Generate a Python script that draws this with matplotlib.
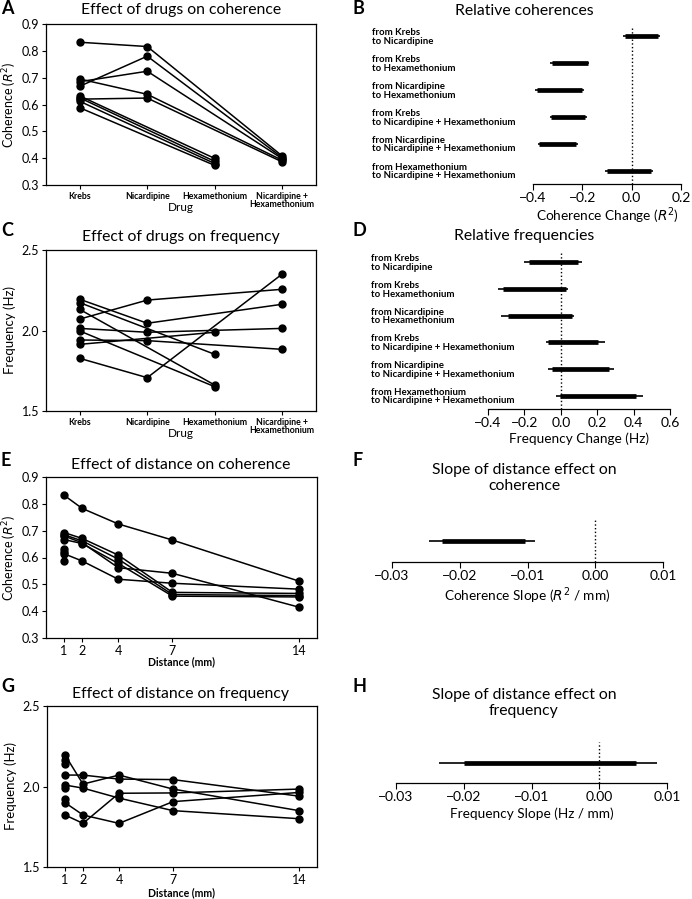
import numpy as np
import matplotlib.pyplot as plt

plt.rcParams['font.family'] = ['Lato', 'DejaVu Sans']
plt.rcParams['mathtext.fontset'] = 'dejavusans'
plt.rcParams['axes.linewidth'] = 0.9

nan = np.nan

# drug conditions (A, C)
drugs = ['Krebs', 'Nicardipine', 'Hexamethonium', 'Nicardipine +\nHexamethonium']
coh_drug = [
    [0.832, 0.816, nan, 0.408],
    [0.668, 0.780, nan, 0.402],
    [0.685, 0.724, nan, 0.398],
    [0.695, 0.638, nan, 0.392],
    [0.620, 0.624, nan, 0.386],
    [0.632, nan, 0.399, nan],
    [0.625, nan, 0.388, nan],
    [0.612, nan, 0.380, nan],
    [0.588, nan, 0.373, nan],
]
freq_drug = [
    [2.071, 2.189, nan, 2.256],
    [2.194, 2.045, nan, 2.163],
    [2.013, 1.989, nan, 2.013],
    [1.941, 1.937, nan, 1.883],
    [1.827, 1.707, nan, 2.351],
    [2.173, nan, 1.852, nan],
    [2.131, nan, 1.661, nan],
    [1.997, nan, 1.651, nan],
    [1.914, nan, 1.989, nan],
]

# relative changes (B, D): thin = outer interval, thick = inner interval
comparisons = ['from Krebs\nto Nicardipine',
               'from Krebs\nto Hexamethonium',
               'from Nicardipine\nto Hexamethonium',
               'from Krebs\nto Nicardipine + Hexamethonium',
               'from Nicardipine\nto Nicardipine + Hexamethonium',
               'from Hexamethonium\nto Nicardipine + Hexamethonium']
coh_thin_lo = [-0.035, -0.333, -0.390, -0.333, -0.381, -0.107]
coh_thick_lo = [-0.028, -0.325, -0.383, -0.327, -0.374, -0.098]
coh_thick_hi = [0.108, -0.178, -0.202, -0.188, -0.226, 0.078]
coh_thin_hi = [0.115, -0.171, -0.195, -0.181, -0.219, 0.086]

freq_thin_lo = [-0.202, -0.345, -0.327, -0.083, -0.070, -0.024]
freq_thick_lo = [-0.176, -0.317, -0.288, -0.068, -0.050, -0.006]
freq_thick_hi = [0.092, 0.028, 0.059, 0.206, 0.264, 0.411]
freq_thin_hi = [0.114, 0.040, 0.073, 0.242, 0.292, 0.453]

# distance series (E, G)
distances = [1, 2, 4, 7, 14]
coh_dist = [
    [0.832, 0.783, 0.725, 0.665, 0.512],
    [0.614, 0.587, 0.519, 0.504, 0.482],
    [0.693, 0.671, 0.609, 0.470, 0.466],
    [0.685, 0.662, 0.594, 0.462, 0.458],
    [0.667, 0.652, 0.578, 0.456, 0.453],
    [0.680, 0.655, 0.562, 0.541, 0.415],
]
coh_dist_single = [0.632, 0.622, 0.588]
freq_dist = [
    [2.196, 2.015, 2.071, 1.984, 1.850],
    [2.071, 2.071, 2.046, 2.043, 1.940],
    [2.009, 1.990, 1.928, 1.850, 1.800],
    [1.900, 1.823, 1.771, 1.906, 1.963],
    [1.823, 1.771, 1.958, 1.960, 1.984],
]
freq_dist_single = [2.165, 2.140, 1.989, 1.920]

# slopes (F, H): thin lo, thick lo, thick hi, thin hi
coh_slope = [-0.0245, -0.0226, -0.0104, -0.0089]
freq_slope = [-0.0236, -0.0199, 0.0054, 0.0085]

W, H = 692, 899
fig = plt.figure(figsize=(W / 100, H / 100), dpi=100)


def box(l, t, r, b):
    return fig.add_axes([l / W, 1 - b / H, (r - l) / W, (b - t) / H])


def paired(ax, xs, series):
    for s in series:
        s = np.asarray(s, float)
        m = ~np.isnan(s)
        ax.plot(np.asarray(xs)[m], s[m], '-o', color='black', lw=1.1, ms=5)


def intervals(ax, labels, lo1, lo2, hi2, hi1):
    y = np.arange(len(labels))
    ax.hlines(y, lo1, hi1, color='black', lw=1.2)
    ax.hlines(y, lo2, hi2, color='black', lw=3.4)
    ax.axvline(0, color='black', ls=':', lw=1)
    for sp in ['top', 'right', 'left']:
        ax.spines[sp].set_visible(False)


def left_style(ax):
    ax.tick_params(labelsize=9, length=3, pad=2)


# A
axA = box(46, 24, 316, 185)
paired(axA, range(4), coh_drug)
axA.set_xlim(-0.5, 3.5)
axA.set_ylim(0.3, 0.9)
axA.set_yticks(np.arange(0.3, 0.91, 0.1))
axA.set_xticks(range(4))
left_style(axA)
axA.set_xticklabels(drugs, fontsize=6.3, fontweight='bold', linespacing=0.85)
axA.set_ylabel('Coherence ($R^2$)', fontsize=9, labelpad=2)
axA.set_xlabel('Drug', fontsize=8.5)
axA.xaxis.set_label_coords(0.5, -0.105)
axA.xaxis.label.set_va('top')

# C
axC = box(46, 250, 316, 411)
paired(axC, range(4), freq_drug)
axC.set_xlim(-0.5, 3.5)
axC.set_ylim(1.5, 2.5)
axC.set_yticks([1.5, 2.0, 2.5])
axC.set_xticks(range(4))
left_style(axC)
axC.set_xticklabels(drugs, fontsize=6.3, fontweight='bold', linespacing=0.85)
axC.set_ylabel('Frequency (Hz)', fontsize=9.5, labelpad=4)
axC.set_xlabel('Drug', fontsize=8.5)
axC.xaxis.set_label_coords(0.5, -0.105)
axC.xaxis.label.set_va('top')

# E
axE = box(46, 477, 317, 638)
paired(axE, distances, coh_dist)
axE.plot([1] * len(coh_dist_single), coh_dist_single, 'o', color='black', ms=5)
axE.set_xlim(0, 15)
axE.set_ylim(0.3, 0.9)
axE.set_yticks(np.arange(0.3, 0.91, 0.1))
axE.set_xticks(distances)
left_style(axE)
axE.set_ylabel('Coherence ($R^2$)', fontsize=9, labelpad=2)
axE.set_xlabel('Distance (mm)', fontsize=7.6, fontweight='bold')
axE.xaxis.set_label_coords(0.5, -0.115)
axE.xaxis.label.set_va('top')

# G
axG = box(47, 706, 317, 867)
paired(axG, distances, freq_dist)
axG.plot([1] * len(freq_dist_single), freq_dist_single, 'o', color='black', ms=5)
axG.set_xlim(0, 15)
axG.set_ylim(1.5, 2.5)
axG.set_yticks([1.5, 2.0, 2.5])
axG.set_xticks(distances)
left_style(axG)
axG.set_ylabel('Frequency (Hz)', fontsize=9.5, labelpad=4)
axG.set_xlabel('Distance (mm)', fontsize=7.6, fontweight='bold')
axG.xaxis.set_label_coords(0.5, -0.125)
axG.xaxis.label.set_va('top')

# B
axB = box(533, 27, 681, 184)
intervals(axB, comparisons, coh_thin_lo, coh_thick_lo, coh_thick_hi, coh_thin_hi)
axB.set_xlim(-0.4, 0.2)
axB.set_xticks([-0.4, -0.2, 0.0, 0.2])
axB.set_ylim(5.5, -0.35)
axB.set_yticks(range(len(comparisons)))
axB.set_yticklabels(comparisons, fontsize=6.9, fontweight='bold',
                    ha='left', linespacing=0.95)
axB.tick_params(axis='y', length=0, pad=116)
axB.tick_params(axis='x', labelsize=10, length=4, pad=2)
axB.set_xlabel('Coherence Change ($R^2$)', fontsize=9.8, labelpad=0.5)

# D
axD = box(488, 253, 670, 409)
intervals(axD, comparisons, freq_thin_lo, freq_thick_lo, freq_thick_hi, freq_thin_hi)
axD.set_xlim(-0.4, 0.6)
axD.set_xticks(np.round(np.arange(-0.4, 0.61, 0.2), 1))
axD.set_ylim(5.5, -0.35)
axD.set_yticks(range(len(comparisons)))
axD.set_yticklabels(comparisons, fontsize=6.9, fontweight='bold',
                    ha='left', linespacing=0.95)
axD.tick_params(axis='y', length=0, pad=84)
axD.tick_params(axis='x', labelsize=10, length=4, pad=2)
axD.set_xlabel('Frequency Change (Hz)', fontsize=9.8, labelpad=2)

# F
axF = box(392, 520, 663, 562)
intervals(axF, [''], [coh_slope[0]], [coh_slope[1]], [coh_slope[2]], [coh_slope[3]])
axF.set_xlim(-0.03, 0.01)
axF.set_xticks([-0.03, -0.02, -0.01, 0.0, 0.01])
axF.set_ylim(-1, 1)
axF.set_yticks([])
axF.tick_params(axis='x', labelsize=10, length=4, pad=2)
axF.set_xlabel('Coherence Slope ($R^2$ / mm)', fontsize=9.8, labelpad=2)

# H
axH = box(396, 742, 667, 783)
intervals(axH, [''], [freq_slope[0]], [freq_slope[1]], [freq_slope[2]], [freq_slope[3]])
axH.set_xlim(-0.03, 0.01)
axH.set_xticks([-0.03, -0.02, -0.01, 0.0, 0.01])
axH.set_ylim(-1, 1)
axH.set_yticks([])
axH.tick_params(axis='x', labelsize=10, length=4, pad=2)
axH.set_xlabel('Frequency Slope (Hz / mm)', fontsize=9.8, labelpad=3)

# titles
titles = [(181, 10, 'Effect of drugs on coherence'),
          (181, 237, 'Effect of drugs on frequency'),
          (181, 465, 'Effect of distance on coherence'),
          (181, 694, 'Effect of distance on frequency'),
          (524, 11, 'Relative coherences'),
          (524, 236, 'Relative frequencies'),
          (524, 478, 'Slope of distance effect on\ncoherence'),
          (524, 703, 'Slope of distance effect on\nfrequency')]
for x, y, t in titles:
    fig.text(x / W, 1 - y / H, t, ha='center', va='center', fontsize=11.3,
             linespacing=1.2)

letters = [(1, 9, 'A'), (352, 9, 'B'), (1, 231, 'C'), (352, 231, 'D'),
           (1, 461, 'E'), (352, 461, 'F'), (1, 687, 'G'), (352, 687, 'H')]
for x, y, t in letters:
    fig.text(x / W, 1 - y / H, t, ha='left', va='center', fontsize=13,
             fontweight='bold')

fig.savefig('out.png', dpi=100)
